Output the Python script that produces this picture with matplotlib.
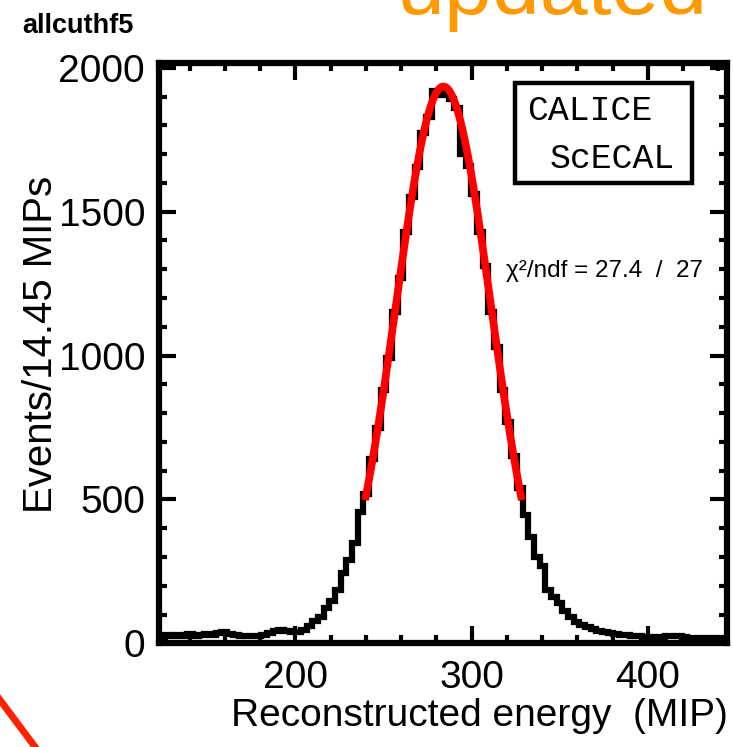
import matplotlib
matplotlib.use("Agg")
import matplotlib.pyplot as plt
from matplotlib.patches import Rectangle
from matplotlib.lines import Line2D
from matplotlib.ticker import MultipleLocator
import numpy as np

plt.rcParams['font.family'] = ['Liberation Sans', 'DejaVu Sans']

# histogram: 100 bins between 122.5 and 445 MIP
bin_lo = 122.5
bin_hi = 445.0
counts = [22, 28, 25, 30, 27, 31, 26, 29, 33, 30,
          36, 38, 33, 28, 27, 25, 24, 26, 30, 35,
          42, 45, 43, 38, 40, 48, 60, 78, 92, 122,
          148, 186, 245, 290, 350, 455, 520, 640, 748, 880,
          990, 1150, 1270, 1430, 1550, 1655, 1775, 1830, 1920, 1905,
          1915, 1890, 1860, 1700, 1660, 1560, 1430, 1310, 1150, 1030,
          880, 770, 650, 540, 445, 370, 300, 270, 186, 160,
          140, 112, 92, 75, 62, 55, 50, 44, 40, 36,
          33, 30, 29, 26, 24, 22, 22, 20, 22, 25,
          27, 26, 22, 20, 18, 17, 19, 20, 18, 16]

# gaussian fit result
fit_amp = 1935.0
fit_mean = 284.0
fit_sigma = 27.0
fit_lo, fit_hi = 239.5, 328.5
chi2_text = "χ²/ndf = 27.4  /  27"

xticks = [200, 300, 400]
yticks = [0, 500, 1000, 1500, 2000]

edges = np.linspace(bin_lo, bin_hi, len(counts) + 1)

fig = plt.figure(figsize=(7.33, 7.47), dpi=100)
ax = fig.add_axes([0.2169, 0.1388, 0.7749, 0.7762])

ax.stairs(counts, edges, baseline=None, color='black', lw=4.5, zorder=2)

xf = np.linspace(fit_lo, fit_hi, 200)
yf = fit_amp * np.exp(-0.5 * ((xf - fit_mean) / fit_sigma) ** 2)
ax.plot(xf, yf, color='#ff0000', lw=5.5, solid_capstyle='butt', zorder=3)

ax.set_xlim(bin_lo, bin_hi)
ax.set_ylim(0, 2015)
ax.set_xticks(xticks)
ax.set_yticks(yticks)
ax.xaxis.set_minor_locator(MultipleLocator(20))
ax.yaxis.set_minor_locator(MultipleLocator(100))
for s in ax.spines.values():
    s.set_linewidth(4.5)
    s.set_zorder(5)
ax.tick_params(which='both', direction='in', top=True, right=True, width=3, color='black')
ax.tick_params(which='major', length=12, labelsize=28)
ax.tick_params(which='minor', length=6)
ax.tick_params(axis='x', which='major', pad=12)
ax.tick_params(axis='y', which='major', pad=10)

fig.text(0.993, 0.028, "Reconstructed energy  (MIP)", fontsize=28, ha='right', va='baseline')
fig.text(52 / 733, 1 - 176 / 747, "Events/14.45 MIPs", fontsize=29, rotation=90,
         rotation_mode='anchor', ha='right', va='baseline')
fig.text(22 / 733, 1 - 33 / 747, "allcuthf5", fontsize=19.5, fontweight='bold', ha='left', va='baseline')
fig.text(708 / 733, 1 - 14 / 747, "updated", fontsize=62, color='#ff9900', ha='right', va='baseline')

# CALICE label box
fig.add_artist(Rectangle((515 / 733, 1 - 183 / 747), 177 / 733, 100 / 747, transform=fig.transFigure,
                         fill=False, lw=3.2, edgecolor='black'))
fig.text(527 / 733, 1 - 120 / 747, "CALICE", fontsize=25, family='Liberation Mono', ha='left', va='baseline')
fig.text(550 / 733, 1 - 168 / 747, "ScECAL", fontsize=25, family='Liberation Mono', ha='left', va='baseline')
fig.text(506 / 733, 1 - 277 / 747, chi2_text, fontsize=17.5, ha='left', va='baseline')

# red arrow fragment at bottom left
fig.add_artist(Line2D([-10 / 733, 50 / 733], [1 - 686.6 / 747, 1 - 767 / 747], transform=fig.transFigure,
                      color='#ff2200', lw=5))

fig.savefig("out.png", dpi=100)
